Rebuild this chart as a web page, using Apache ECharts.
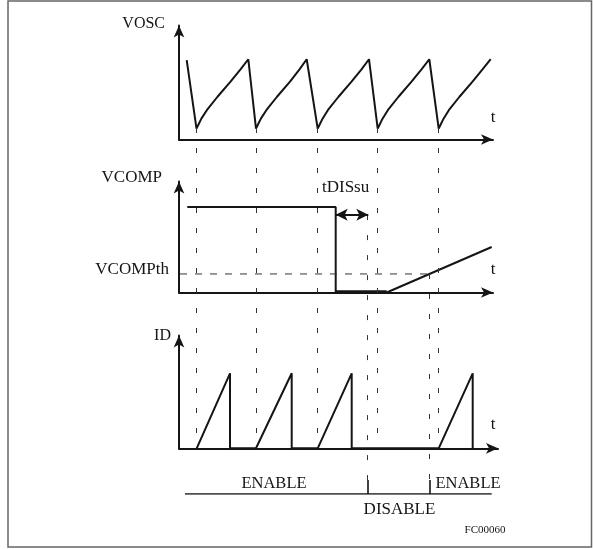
<!DOCTYPE html>
<html><head><meta charset="utf-8">
<script src="https://cdn.jsdelivr.net/npm/echarts@6/dist/echarts.min.js"></script>
<style>html,body{margin:0;padding:0;background:#fff}#c{width:593px;height:549px}</style>
</head><body><div id="c"></div>
<script>
// time axis unit: arbitrary time units, same for all three traces
// VOSC oscillator sawtooth (time, level %)
const oscT = [7.7, 17.5, 22.5, 28, 38.5, 51.5, 61.5, 69.3, 77, 82, 87.5, 98, 111, 120.5, 127.7, 138.7, 143.7, 149, 159.5, 172.5, 182.5, 190, 198.7, 203.7, 209, 219.5, 232.5, 242.5, 250.3, 259.7, 264.7, 270, 280.5, 293.5, 303.5, 311.7];
const oscV = [69.7, 9.6, 18.5, 25.9, 37.5, 50.7, 61.5, 70.4, 9.6, 18.5, 25.9, 37.5, 50.7, 61.5, 70.4, 9.6, 18.5, 25.9, 37.5, 50.7, 61.5, 70.4, 9.6, 18.5, 25.9, 37.5, 50.7, 61.5, 70.4, 9.6, 18.5, 25.9, 37.5, 50.7, 61.5, 70.4];
// VCOMP
const vcT = [8.3, 156.7, 156.7, 207.7, 312.7];
const vcV = [77.0, 77.0, 0, 0, 41.0];
const vcThreshold = 16.7;
const thresholdSpan = [1, 249];
const tdisSpan = [156.7, 189.3];
const tdisLevel = 70.1;
// ID drain current
const idT = [17.7, 51, 51, 77, 112.7, 112.7, 138.7, 172.7, 172.7, 259.7, 293.7, 293.7];
const idV = [0, 66.5, 0, 0, 66.5, 0, 0, 66.5, 0, 0, 66.5, 0];
// dashed timing markers: [time, top, bottom] in overlay %
const markers = [[17.5, 100, 12.5], [77, 100, 12.5], [138.7, 100, 12.5], [198.7, 100, 12.5], [259.7, 100, 12.5], [188.7, 76.2, 3.8], [250.5, 60.1, 3.8]];
// enable / disable bar
const barSpan = [6, 312.7];
const barTicks = [188.7, 250.5];
const tickHeight = 3.8;
// labels
const labels = {vosc: 'VOSC', vcomp: 'VCOMP', vcompth: 'VCOMPth', tdis: 'tDISsu', id: 'ID', t: 't', enable: 'ENABLE', disable: 'DISABLE', code: 'FC00060'};

const ink = '#151515';
const serif = '"Liberation Serif", "DejaVu Serif", serif';

function axisPair(i, width, arrow) {
  const line = {show: arrow, lineStyle: {color: ink, width: 2}, symbol: ['none', 'arrow'], symbolSize: [8, 12]};
  return {
    x: {gridIndex: i, type: 'value', min: 0, max: width, axisLine: line, axisTick: {show: false}, axisLabel: {show: false}, splitLine: {show: false}},
    y: {gridIndex: i, type: 'value', min: 0, max: 100, axisLine: line, axisTick: {show: false}, axisLabel: {show: false}, splitLine: {show: false}}
  };
}
const a0 = axisPair(0, 314, true), a1 = axisPair(1, 314, true), a2 = axisPair(2, 319, true), a3 = axisPair(3, 314, false);

const zip = (xs, ys) => xs.map((x, k) => [x, ys[k]]);

const option = {
  animation: false,
  grid: [
    {left: 179, top: 25.5, width: 314, height: 114, outerBoundsMode: 'none'},
    {left: 179, top: 181.5, width: 314, height: 111, outerBoundsMode: 'none'},
    {left: 179, top: 335.5, width: 319, height: 112.8, outerBoundsMode: 'none'},
    {left: 179, top: 128, width: 314, height: 366, outerBoundsMode: 'none'}
  ],
  xAxis: [a0.x, a1.x, a2.x, a3.x],
  yAxis: [a0.y, a1.y, a2.y, a3.y],
  series: [
    {type: 'line', xAxisIndex: 3, yAxisIndex: 3, data: [], silent: true, z: 1,
      markLine: {silent: true, symbol: ['none', 'none'], label: {show: false},
        lineStyle: {color: '#333', width: 1, type: [5, 15]},
        data: markers.map(m => [{coord: [m[0], m[1]]}, {coord: [m[0], m[2]]}])}},
    {type: 'line', xAxisIndex: 3, yAxisIndex: 3, data: [[barSpan[0], 0], [barSpan[1], 0]], symbol: 'none', silent: true,
      lineStyle: {color: ink, width: 1.6}},
    {type: 'line', xAxisIndex: 3, yAxisIndex: 3, data: [], silent: true,
      markLine: {silent: true, symbol: ['none', 'none'], label: {show: false},
        lineStyle: {color: ink, width: 1.6, type: 'solid'},
        data: barTicks.map(t => [{coord: [t, 0]}, {coord: [t, tickHeight]}])}},
    {type: 'line', xAxisIndex: 0, yAxisIndex: 0, data: zip(oscT, oscV), symbol: 'none', silent: true,
      lineStyle: {color: ink, width: 2}},
    {type: 'line', xAxisIndex: 1, yAxisIndex: 1, data: zip(vcT, vcV), symbol: 'none', silent: true,
      lineStyle: {color: ink, width: 2}},
    {type: 'line', xAxisIndex: 1, yAxisIndex: 1, data: [[vcT[2], 0.6], [vcT[3], 0.6]], symbol: 'none', silent: true,
      lineStyle: {color: ink, width: 3}},
    {type: 'line', xAxisIndex: 1, yAxisIndex: 1, data: [[thresholdSpan[0], vcThreshold], [thresholdSpan[1], vcThreshold]], symbol: 'none', silent: true,
      lineStyle: {color: '#333', width: 1, type: [7, 8]}},
    {type: 'line', xAxisIndex: 1, yAxisIndex: 1, data: [], silent: true,
      markLine: {silent: true, symbol: ['arrow', 'arrow'], symbolSize: [9, 12], label: {show: false},
        lineStyle: {color: ink, width: 2, type: 'solid'},
        data: [[{coord: [tdisSpan[0], tdisLevel]}, {coord: [tdisSpan[1], tdisLevel]}]]}},
    {type: 'line', xAxisIndex: 2, yAxisIndex: 2, data: zip(idT, idV), symbol: 'none', silent: true,
      lineStyle: {color: ink, width: 2}}
  ],
  graphic: [
    {type: 'rect', shape: {x: 8, y: 1, width: 583.5, height: 546}, style: {fill: 'none', stroke: '#666', lineWidth: 1.5}, silent: true},
    {type: 'text', style: {text: labels.vosc, x: 165, y: 24, align: 'right', verticalAlign: 'middle', font: '16px ' + serif, fill: ink}},
    {type: 'text', style: {text: labels.t, x: 493, y: 118, align: 'center', verticalAlign: 'middle', font: '17px ' + serif, fill: ink}},
    {type: 'text', style: {text: labels.vcomp, x: 162, y: 178, align: 'right', verticalAlign: 'middle', font: '17px ' + serif, fill: ink}},
    {type: 'text', style: {text: labels.tdis, x: 322, y: 188, align: 'left', verticalAlign: 'middle', font: '17px ' + serif, fill: ink}},
    {type: 'text', style: {text: labels.vcompth, x: 169, y: 270, align: 'right', verticalAlign: 'middle', font: '17px ' + serif, fill: ink}},
    {type: 'text', style: {text: labels.t, x: 493, y: 270, align: 'center', verticalAlign: 'middle', font: '17px ' + serif, fill: ink}},
    {type: 'text', style: {text: labels.id, x: 171, y: 336, align: 'right', verticalAlign: 'middle', font: '16px ' + serif, fill: ink}},
    {type: 'text', style: {text: labels.t, x: 493, y: 425, align: 'center', verticalAlign: 'middle', font: '17px ' + serif, fill: ink}},
    {type: 'text', style: {text: labels.enable, x: 274, y: 484, align: 'center', verticalAlign: 'middle', font: '16.5px ' + serif, fill: ink}},
    {type: 'text', style: {text: labels.enable, x: 468, y: 484, align: 'center', verticalAlign: 'middle', font: '16.5px ' + serif, fill: ink}},
    {type: 'text', style: {text: labels.disable, x: 399.5, y: 510, align: 'center', verticalAlign: 'middle', font: '17px ' + serif, fill: ink}},
    {type: 'text', style: {text: labels.code, x: 485, y: 530, align: 'center', verticalAlign: 'middle', font: '11px ' + serif, fill: ink}}
  ]
};
const chart = echarts.init(document.getElementById('c'), null, {renderer: 'canvas'});
chart.setOption(option);
</script>
</body></html>
